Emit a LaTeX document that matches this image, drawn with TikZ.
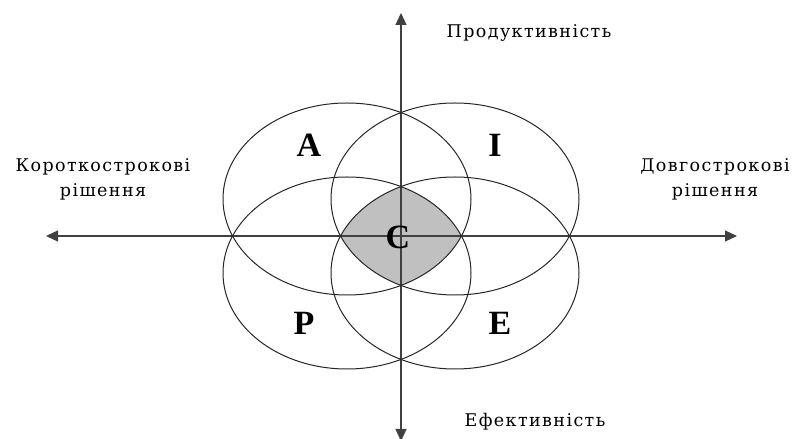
\documentclass[tikz,border=0pt]{standalone}
\usepackage{fontspec}
\setmainfont{Liberation Serif}
\newfontfamily\labfont[LetterSpace=8]{DejaVu Serif}
\usetikzlibrary{arrows.meta}
\definecolor{cgray}{RGB}{192,192,192}
\tikzset{
  ell/.style={draw=black!85, line width=1pt},
  axis/.style={draw=black!75, line width=1.2pt, -{Triangle[length=12pt,width=11pt]}},
  lab/.style={font=\labfont\fontsize{17.5}{25}\selectfont, align=center, inner sep=0pt},
  big/.style={font=\fontsize{34}{36}\selectfont\bfseries, inner sep=0pt}
}
\begin{document}
\begin{tikzpicture}[x=1pt,y=1pt]
\useasboundingbox (0,0) rectangle (796,439);
% center fill = intersection of all four ellipses
\begin{scope}
  \clip (347,240) ellipse [x radius=124, y radius=96];
  \clip (455,240) ellipse [x radius=124, y radius=96];
  \clip (347,166) ellipse [x radius=124, y radius=96];
  \fill[cgray] (455,166) ellipse [x radius=124, y radius=96];
\end{scope}
% axes
\coordinate (O) at (401,203);
\coordinate (L) at (46,203);
\coordinate (R) at (737,203);
\coordinate (T) at (401,426);
\coordinate (B) at (401,-2);
\draw[axis] (O) -- (L);
\draw[axis] (O) -- (R);
\draw[axis] (O) -- (T);
\draw[axis] (O) -- (B);
% ellipses
\draw[ell] (347,240) ellipse [x radius=124, y radius=96];
\draw[ell] (455,240) ellipse [x radius=124, y radius=96];
\draw[ell] (347,166) ellipse [x radius=124, y radius=96];
\draw[ell] (455,166) ellipse [x radius=124, y radius=96];
% letters
\node[big] (A) at (309,294) {A};
\node[big] (I) at (495,294) {I};
\node[big] (P) at (304,116) {P};
\node[big] (E) at (500,116) {E};
\node[big] (C) at (398,202) {C};
% labels
\node[lab] (prod) at (529,406) {Продуктивність};
\node[lab] (eff) at (535,17) {Ефективність};
\node[lab] (short) at (103,260) {Короткострокові\\рішення};
\node[lab] (long) at (715,260) {Довгострокові\\рішення};
\end{tikzpicture}
\end{document}
